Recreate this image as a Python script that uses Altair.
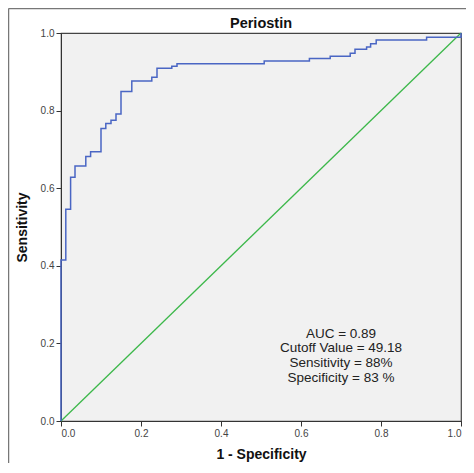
import altair as alt
import pandas as pd

# ROC curve vertices (1 - specificity, sensitivity)
fpr = [0.0, 0.0, 0.012, 0.024, 0.035, 0.062, 0.074, 0.100, 0.112, 0.125, 0.1375,
       0.150, 0.177, 0.227, 0.240, 0.277, 0.290, 0.508, 0.621, 0.673, 0.723,
       0.735, 0.764, 0.774, 0.788, 0.914, 1.0]
tpr = [0.0, 0.415, 0.546, 0.628, 0.657, 0.682, 0.694, 0.754, 0.767, 0.775, 0.791,
       0.849, 0.876, 0.886, 0.909, 0.914, 0.921, 0.928, 0.934, 0.940, 0.948,
       0.958, 0.964, 0.972, 0.982, 0.989, 1.0]

ref_x = [0.0, 1.0]
ref_y = [0.0, 1.0]

ann_lines = ["AUC = 0.89", "Cutoff Value = 49.18", "Sensitivity = 88%", "Specificity = 83 %"]
ann_x = [0.70, 0.70, 0.70, 0.70]
ann_y = [0.225, 0.187, 0.149, 0.111]

title_text = ["Periostin"]
ticks = [0.0, 0.2, 0.4, 0.6, 0.8, 1.0]
FONT = "Liberation Sans"

roc = pd.DataFrame({"fpr": fpr, "tpr": tpr})
diag = pd.DataFrame({"fpr": ref_x, "tpr": ref_y})
ann = pd.DataFrame({"x": ann_x, "y": ann_y, "t": ann_lines})
ttl = pd.DataFrame({"t": title_text})

xscale = alt.Scale(domain=[0, 1], nice=False)
yscale = alt.Scale(domain=[0, 1], nice=False)

xaxis = alt.Axis(values=ticks, format=".1f", title="1 - Specificity", grid=False,
                 tickSize=5, tickColor="#333", domainColor="#333", labelColor="#444",
                 labelFontSize=10, labelFont=FONT, labelPadding=2,
                 titleFont=FONT, titleFontSize=14, titleFontWeight="bold",
                 titleColor="#111", titlePadding=9)
yaxis = alt.Axis(values=ticks, format=".1f", title="Sensitivity", grid=False,
                 tickSize=5, tickColor="#333", domainColor="#333", labelColor="#444",
                 labelFontSize=10, labelFont=FONT, labelPadding=2,
                 titleFont=FONT, titleFontSize=14, titleFontWeight="bold",
                 titleColor="#111", titlePadding=11)

line = alt.Chart(roc).mark_line(interpolate="step-after", color="#4a66c4", strokeWidth=1.5).encode(
    x=alt.X("fpr:Q", scale=xscale, axis=xaxis),
    y=alt.Y("tpr:Q", scale=yscale, axis=yaxis),
)
diag_line = alt.Chart(diag).mark_line(color="#3cb84a", strokeWidth=1.3).encode(
    x=alt.X("fpr:Q", scale=xscale),
    y=alt.Y("tpr:Q", scale=yscale),
)
text = alt.Chart(ann).mark_text(font=FONT, fontSize=13.5, color="#222", align="center", baseline="middle").encode(
    x=alt.X("x:Q", scale=xscale),
    y=alt.Y("y:Q", scale=yscale),
    text="t:N",
)
title = alt.Chart(ttl).mark_text(font=FONT, fontSize=14.5, fontWeight="bold", color="#111",
                                 align="center", baseline="middle").encode(
    x=alt.value(200), y=alt.value(-9), text="t:N")
frame_left = alt.Chart(pd.DataFrame({"a": [0]})).mark_rule(color="#777", strokeWidth=1.5).encode(
    x=alt.value(-52.5), y=alt.value(-24.5), y2=alt.value(600))
frame_top = alt.Chart(pd.DataFrame({"a": [0]})).mark_rule(color="#777", strokeWidth=1.5).encode(
    y=alt.value(-24.5), x=alt.value(-52.5), x2=alt.value(600))

chart = alt.layer(diag_line, line, text, title, frame_left, frame_top).properties(
    width=400, height=388,
    padding={"left": 53, "top": 25, "right": 5, "bottom": 42},
    autosize=alt.AutoSizeParams(type="none"),
    background="white",
).configure_view(fill="#f1f1f1", stroke="#444", strokeWidth=1.2)

chart.save("out.html", embed_options={"renderer": "svg", "actions": False})
